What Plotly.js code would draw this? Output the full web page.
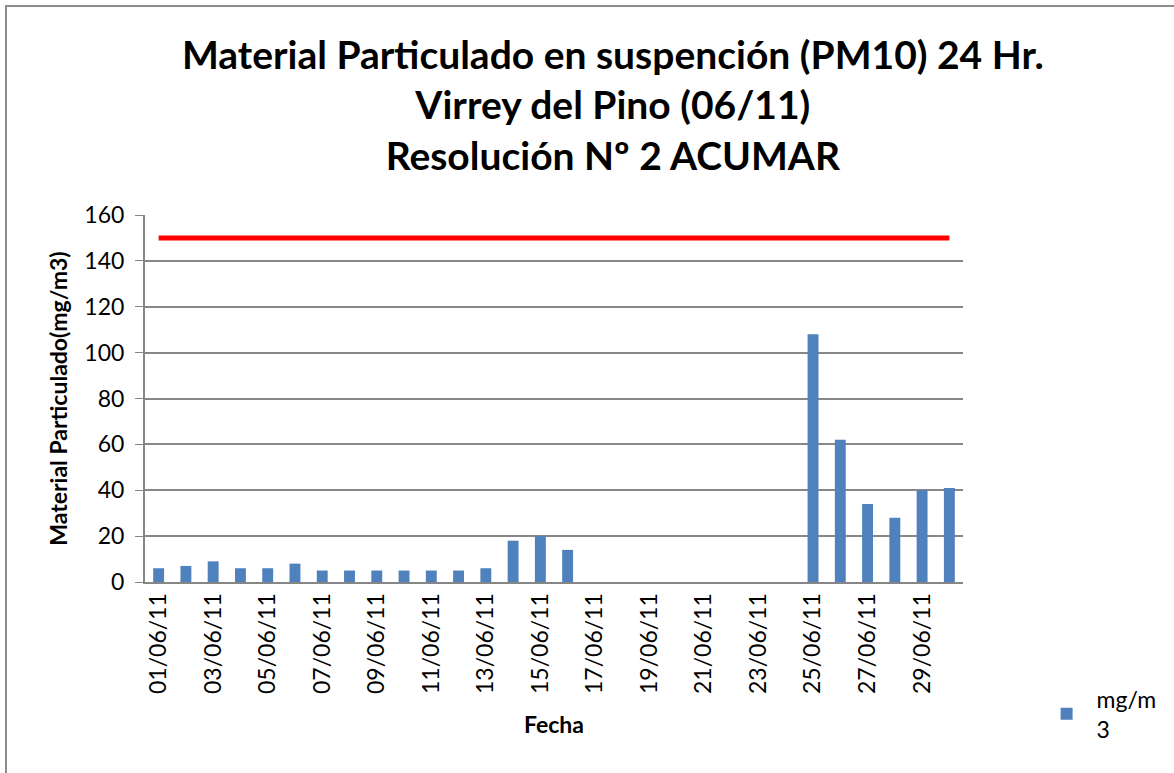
<!DOCTYPE html>
<html>
<head>
<meta charset="utf-8">
<script src="https://cdn.plot.ly/plotly-3.0.1.min.js"></script>
<style>
html,body{margin:0;padding:0;overflow:hidden;background:#fff;}
#chart{width:1174px;height:773px;}
#frame{position:absolute;left:5px;top:5px;width:1200px;height:800px;border:2px solid #8c8c8c;pointer-events:none;}
</style>
</head>
<body>
<div id="chart"></div>
<div id="frame"></div>
<script>
const fechas = ["01/06/11","02/06/11","03/06/11","04/06/11","05/06/11","06/06/11","07/06/11","08/06/11","09/06/11","10/06/11",
"11/06/11","12/06/11","13/06/11","14/06/11","15/06/11","16/06/11","17/06/11","18/06/11","19/06/11","20/06/11",
"21/06/11","22/06/11","23/06/11","24/06/11","25/06/11","26/06/11","27/06/11","28/06/11","29/06/11","30/06/11"];
const pm10 = [6,7,9,6,6,8,5,5,5,5,5,5,6,18,20,14,null,null,null,null,null,null,null,null,108,62,34,28,40,41];
const limite = [150,150,150,150,150,150,150,150,150,150,150,150,150,150,150,150,150,150,150,150,150,150,150,150,150,150,150,150,150,150];
const tickFechas = fechas.filter((f,i)=>i%2===0);

const font = "Lato, 'Open Sans', sans-serif";
const data = [
  {type:'bar', x:fechas, y:pm10, name:'mg/m<br>3', marker:{color:'#4F81BD'}},
  {type:'scatter', mode:'lines', x:fechas, y:limite, name:'Límite', showlegend:false, line:{color:'#FF0000', width:5}}
];
const layout = {
  width:1174, height:773,
  margin:{l:145, r:211, t:215, b:191},
  paper_bgcolor:'#fff', plot_bgcolor:'#fff',
  bargap:0.6,
  font:{family:font, color:'#000'},
  title:{text:'<b>Material Particulado en suspención (PM10) 24 Hr.<br>Virrey del Pino (06/11)<br>Resolución Nº 2 ACUMAR</b>',
    font:{size:39, family:font}, x:0.522, xanchor:'center', yref:'container', y:0.911, yanchor:'middle'},
  xaxis:{type:'category', tickmode:'array', tickvals:tickFechas, ticktext:tickFechas, tickangle:-90,
    tickfont:{size:23}, showgrid:false, showline:true, linecolor:'#868686', linewidth:2, ticks:'',
    title:{text:'<b>Fecha</b>', font:{size:23}, standoff:24}},
  yaxis:{range:[0,160], dtick:20, tickfont:{size:23}, showgrid:true, gridcolor:'#878787', gridwidth:2,
    showline:true, linecolor:'#868686', linewidth:2, ticks:'outside', ticklen:8, tickcolor:'#868686', zeroline:false,
    ticklabelstandoff:6,
    title:{text:'<b>Material Particulado(mg/m3)</b>', font:{size:23}, standoff:10}},
  showlegend:true,
  legend:{x:1.09, y:-0.26, xanchor:'left', yanchor:'top', font:{size:23}, itemwidth:50, bgcolor:'rgba(0,0,0,0)'}
};
Plotly.newPlot('chart', data, layout, {displayModeBar:false, staticPlot:true});
</script>
</body>
</html>
